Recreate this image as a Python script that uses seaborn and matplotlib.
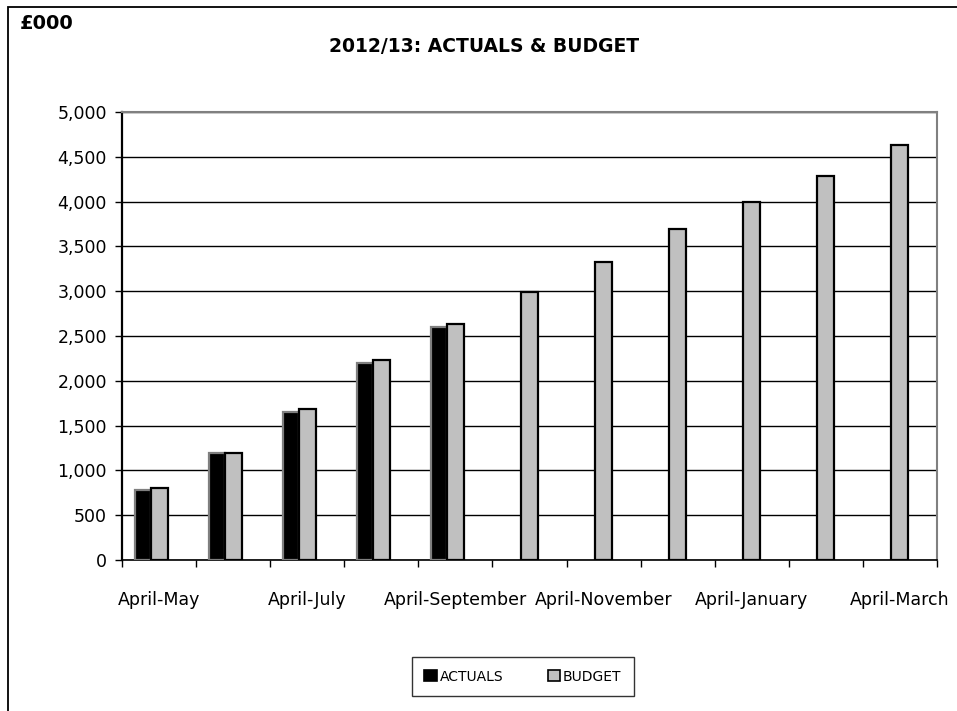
import numpy as np
import pandas as pd
import matplotlib
matplotlib.use("Agg")
import matplotlib.pyplot as plt
from matplotlib.patches import Patch, Rectangle
from matplotlib.ticker import FuncFormatter, FixedLocator
import seaborn as sns

# Cumulative year-to-date figures, £000
periods = ["April-May", "April-June", "April-July", "April-August",
           "April-September", "April-October", "April-November",
           "April-December", "April-January", "April-February", "April-March"]
actuals = [782, 1196, 1650, 2194, 2595,
           np.nan, np.nan, np.nan, np.nan, np.nan, np.nan]
budget = [801, 1199, 1687, 2227, 2636, 2991, 3326, 3698, 3992, 4287, 4629]
shown_labels = ["April-May", "", "April-July", "", "April-September", "",
                "April-November", "", "April-January", "", "April-March"]
y_ticks = [0, 500, 1000, 1500, 2000, 2500, 3000, 3500, 4000, 4500, 5000]

df = pd.concat([
    pd.DataFrame({"period": periods, "series": "ACTUALS", "value": actuals}),
    pd.DataFrame({"period": periods, "series": "BUDGET", "value": budget}),
]).dropna()

sns.set_style("white")
plt.rcParams["font.family"] = ["DejaVu Sans"]
plt.rcParams["text.color"] = "black"
plt.rcParams["xtick.color"] = "black"
plt.rcParams["ytick.color"] = "black"
plt.rcParams["xtick.labelcolor"] = "black"
plt.rcParams["ytick.labelcolor"] = "black"

fig = plt.figure(figsize=(9.57, 7.11), dpi=100)
ax = fig.add_axes([0.1278, 0.2124, 0.851, 0.6301])

colors = {"ACTUALS": "#000000", "BUDGET": "#C0C0C0"}
edges = {"ACTUALS": "#7f7f7f", "BUDGET": "#000000"}
bar_w = 0.446
sns.barplot(data=df, x="period", y="value", hue="series", order=periods,
            hue_order=["ACTUALS", "BUDGET"], palette=colors, saturation=1,
            width=bar_w, dodge=True, legend=False, ax=ax, zorder=3)

# budget bar sits on the category centre, actuals to its left
for name, cont in zip(["ACTUALS", "BUDGET"], ax.containers):
    for p in cont.patches:
        p.set_x(p.get_x() - bar_w / 4)
        p.set_edgecolor(edges[name])
        p.set_linewidth(1.6)

ax.set_xlim(-0.5, len(periods) - 0.5)
ax.set_ylim(0, 5000)
ax.set_yticks(y_ticks)
ax.yaxis.set_major_formatter(FuncFormatter(lambda v, _: f"{int(v):,}"))
ax.set_xticks(range(len(periods)))
ax.set_xticklabels(shown_labels)
ax.xaxis.set_minor_locator(FixedLocator(np.arange(-0.5, len(periods), 1.0)))
ax.tick_params(axis="x", which="major", length=0, pad=22, labelsize=12.5,
               labelcolor="black")
ax.tick_params(axis="x", which="minor", length=5, width=1, color="black",
               direction="out", bottom=True)
ax.tick_params(axis="y", length=5, width=1, color="black", direction="out",
               left=True, pad=6, labelsize=12.5, labelcolor="black")
ax.set_xlabel("")
ax.set_ylabel("")

ax.grid(axis="y", color="black", linewidth=1, zorder=0)
ax.set_axisbelow(True)
for side in ["top", "right"]:
    ax.spines[side].set_color("#808080")
    ax.spines[side].set_linewidth(1.5)
ax.spines["left"].set_color("black")
ax.spines["left"].set_linewidth(1.6)
ax.spines["bottom"].set_color("black")
ax.spines["bottom"].set_linewidth(1.2)

fig.text(0.506, 0.934, "2012/13: ACTUALS & BUDGET", ha="center", va="center",
         fontsize=13.5, fontweight="bold", color="black")
fig.text(0.021, 0.967, "£000", ha="left", va="center",
         fontsize=14, fontweight="bold", color="black")

handles = [Patch(facecolor=colors[k], edgecolor="black", linewidth=1.2, label=k)
           for k in ["ACTUALS", "BUDGET"]]
leg = fig.legend(handles=handles, loc="center", bbox_to_anchor=(0.5465, 0.0485),
                 ncol=2, frameon=True, fancybox=False, fontsize=10,
                 handlelength=0.9, handleheight=0.9, handletextpad=0.2,
                 columnspacing=3.2, borderpad=0.9, edgecolor="black",
                 labelcolor="black")
leg.get_frame().set_linewidth(1.0)

fig.patches.append(Rectangle((0.0087, -0.2), 1.2, 1.1895, transform=fig.transFigure,
                             fill=False, edgecolor="black", linewidth=1.3))

fig.savefig("out.png", dpi=100, facecolor="white")
